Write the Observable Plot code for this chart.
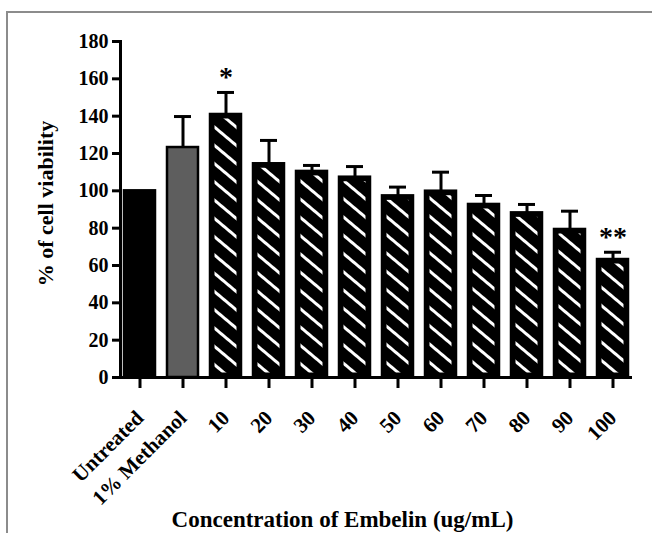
<!DOCTYPE html>
<html>
<head>
<meta charset="utf-8">
<script src="https://cdn.jsdelivr.net/npm/d3@7"></script>
<script src="https://cdn.jsdelivr.net/npm/@observablehq/plot@0.6"></script>
<style>
  html, body { margin: 0; padding: 0; background: #fff; }
  #wrap { position: relative; width: 652px; height: 533px; overflow: hidden; }
  #border { position: absolute; left: 6px; top: 11px; width: 700px; height: 600px;
            border-top: 2px solid #8c8c8c; border-left: 2px solid #8c8c8c; }
  #chart { position: absolute; left: 0; top: 0; }
</style>
</head>
<body>
<div id="wrap"><div id="border"></div><div id="chart"></div></div>
<script>
// ---- data ----
const categories = ["Untreated", "1% Methanol", "10", "20", "30", "40", "50", "60", "70", "80", "90", "100"];
const means      = [100, 123.2, 140.9, 114.5, 110.4, 107.3, 97.3, 99.8, 92.7, 88.2, 79.3, 63.2];
const errors     = [0, 16.6, 11.8, 12.5, 3.2, 5.7, 4.7, 10.2, 4.8, 4.5, 9.8, 3.9];
const groups     = ["untreated", "vehicle", "embelin", "embelin", "embelin", "embelin", "embelin", "embelin", "embelin", "embelin", "embelin", "embelin"];
const significance = ["", "", "*", "", "", "", "", "", "", "", "", "**"];
const yTicks = [0, 20, 40, 60, 80, 100, 120, 140, 160, 180];
const yLabel = "% of cell viability";
const xLabel = "Concentration of Embelin (ug/mL)";

const groupDomain = ["untreated", "vehicle", "embelin"];
const groupColors = ["#000000", "#5e5e5e", "#000000"];

const rows = categories.map((c, i) => ({
  category: c, mean: means[i], err: errors[i], top: means[i] + errors[i],
  group: groups[i], sig: significance[i]
}));

const font = "'Liberation Serif', 'Times New Roman', serif";

const chart = Plot.plot({
  width: 652,
  height: 533,
  marginLeft: 120,
  marginRight: 20,
  marginTop: 41,
  marginBottom: 156,
  style: { fontFamily: font, background: "transparent", color: "#000" },
  x: { domain: categories, paddingInner: 0.27, paddingOuter: 0.0, label: null },
  y: { domain: [0, 180], label: null },
  color: { domain: groupDomain, range: groupColors },
  marks: [
    Plot.barY(rows, { x: "category", y: "mean", fill: "group", stroke: "#000", strokeWidth: 2.5 }),
    Plot.barY(rows.filter(d => d.group === "embelin"), { x: "category", y: "mean", fill: "url(#hatch)", inset: 4.5 }),
    Plot.ruleX(rows.filter(d => d.err > 0), { x: "category", y1: "mean", y2: "top", stroke: "#000", strokeWidth: 3 }),
    Plot.tickY(rows.filter(d => d.err > 0), { x: "category", y: "top", stroke: "#000", strokeWidth: 3, insetLeft: 7, insetRight: 7 }),
    Plot.text(rows.filter(d => d.sig), { x: "category", y: "top", text: "sig", dy: -6, lineAnchor: "bottom", fontSize: 28, fontWeight: "bold", fill: "#000" }),
    Plot.ruleY([0], { stroke: "#000", strokeWidth: 3 }),
    Plot.frame({ anchor: "left", stroke: "#000", strokeWidth: 3 }),
    Plot.axisY({ ticks: yTicks, tickSize: 8, tickPadding: 4, strokeWidth: 3, fontSize: 20, fontWeight: "bold", label: null }),
    Plot.axisX({ tickSize: 11, tickPadding: 26, tickRotate: -45, strokeWidth: 3, fontSize: 21, fontWeight: "bold", label: null }),
    Plot.text([yLabel], { frameAnchor: "left", textAnchor: "middle", lineAnchor: "middle", dx: -75, dy: -6, rotate: -90, fontSize: 22, fontWeight: "bold", fill: "#000" }),
    Plot.text([xLabel], { frameAnchor: "bottom", lineAnchor: "bottom", dx: -34, dy: 149, fontSize: 23, fontWeight: "bold", fill: "#000" })
  ]
});

// hatch pattern definition (white diagonal stripes)
const defs = d3.select(chart).insert("defs", ":first-child");
const pat = defs.append("pattern")
  .attr("id", "hatch")
  .attr("patternUnits", "userSpaceOnUse")
  .attr("width", 10)
  .attr("height", 14)
  .attr("patternTransform", "rotate(40)");
pat.append("rect").attr("width", 10).attr("height", 14).attr("fill", "#000");
pat.append("rect").attr("y", 0).attr("width", 10).attr("height", 3).attr("fill", "#fff");

document.getElementById("chart").appendChild(chart);
</script>
</body>
</html>
